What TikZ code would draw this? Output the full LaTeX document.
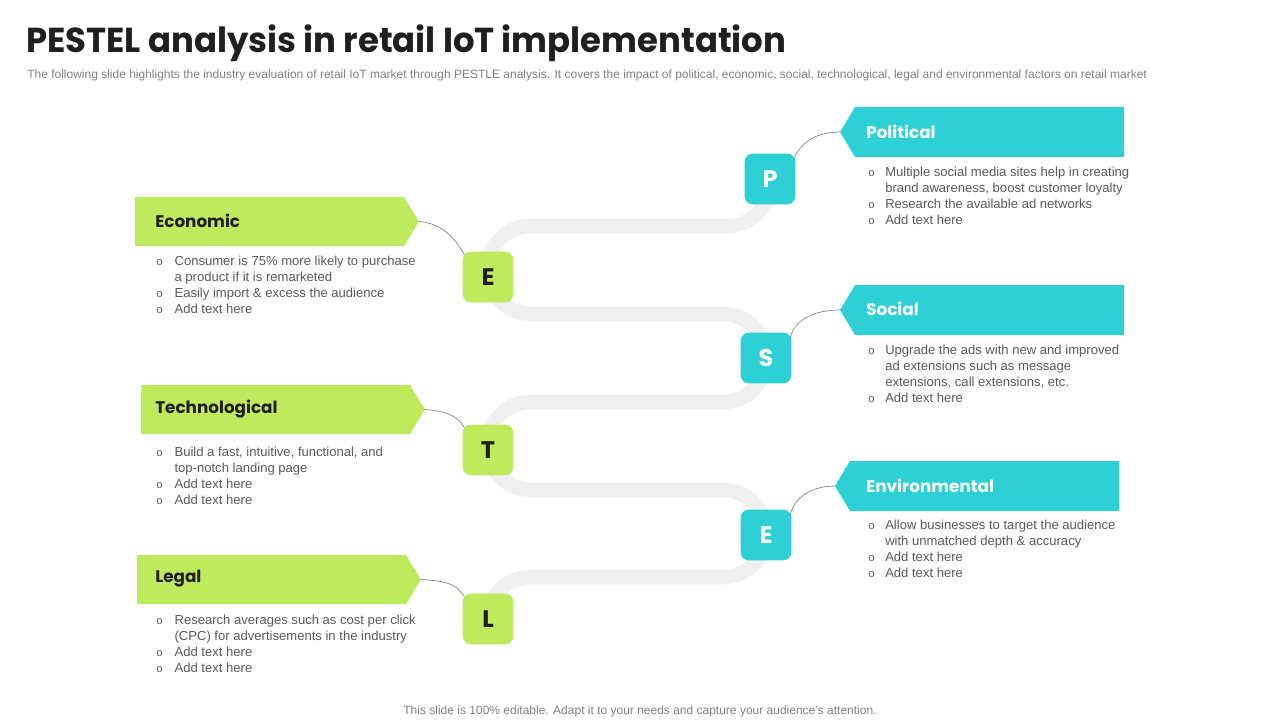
\documentclass[tikz,border=0pt]{standalone}
\usepackage{fontspec}
\usepackage{graphicx}
\setmainfont{Liberation Sans}
\newfontfamily\headfont{Poppins}
\usetikzlibrary{positioning, backgrounds}
\definecolor{pslime}{HTML}{BFEA5E}
\definecolor{psteal}{HTML}{2DD0D4}
\definecolor{pstrack}{HTML}{EFEFEF}
\definecolor{pstext}{HTML}{595959}
\definecolor{psdark}{HTML}{1F1F1F}
\definecolor{psgray}{HTML}{808080}
\newcommand{\bul}{{\fontsize{8.5}{8}\selectfont o}}

\begin{document}
\begin{tikzpicture}[
    x=0.75pt, y=-0.75pt,
    letterbox/.style={fill=#1, rounded corners=6pt, minimum size=38pt, inner sep=0pt,
      font=\headfont\bfseries\fontsize{18}{18}\selectfont},
    heading/.style={anchor=west, inner sep=0pt, font=\headfont\bfseries\fontsize{12.6}{14}\selectfont},
    bullets/.style={anchor=north west, inner sep=0pt, text=pstext,
      font=\fontsize{9.8}{12}\selectfont},
    link/.style={draw=psgray, line width=0.5pt},
    track/.style={draw=pstrack, line width=11pt, rounded corners=32pt},
  ]
  \useasboundingbox (0,0) rectangle (1280,720);

  % ----- title and note -----
  \node[anchor=base west, inner sep=0pt, text=psdark, font=\headfont\bfseries\fontsize{26}{26}\selectfont]
    (title) at (26,53) {\scalebox{0.978}[1]{PESTEL analysis in retail IoT implementation}};
  \node[anchor=base west, inner sep=0pt, text=psgray, font=\fontsize{9}{10}\selectfont] (subtitle) at (27,79)
    {The following slide highlights the industry evaluation of retail IoT  market through PESTLE analysis. It covers the impact of political, economic, social, technological, legal and environmental factors on retail market};

  % ----- letter boxes -----
  \node[letterbox=psteal, text=white] (P) at (770,179) {P};
  \node[letterbox=pslime, text=psdark] (E1) at (488,277) {E};
  \node[letterbox=psteal, text=white] (S) at (766,358) {S};
  \node[letterbox=pslime, text=psdark] (T) at (488,450) {T};
  \node[letterbox=psteal, text=white] (E2) at (766,535) {E};
  \node[letterbox=pslime, text=psdark] (L) at (488,619) {L};

  % ----- banners (green left, teal right) -----
  \foreach \x/\y/\nm in {135/197/eco, 141/385/tech, 137/555/legal}{
    \fill[pslime] (\x,\y) -- ++(269,0) -- ++(15,24.5) coordinate (\nm Tip)
      -- ++(-15,24.5) -- ++(-269,0) -- cycle;
  }
  \foreach \x/\y/\nm in {1124/107/pol, 1124/285/soc, 1119/461/env}{
    \fill[psteal] (\x,\y) -- ++(-269,0) -- ++(-15,25) coordinate (\nm Tip)
      -- ++(15,25) -- ++(269,0) -- cycle;
  }
  \node[heading, text=psdark] (ecoHead) at (155,220.5) {Economic};
  \node[heading, text=psdark] (techHead) at (155,409.5) {Technological};
  \node[heading, text=psdark] (legalHead) at (155,578.5) {Legal};
  \node[heading, text=white] (polHead) at (866,131.5) {Political};
  \node[heading, text=white] (socHead) at (866,308.5) {Social};
  \node[heading, text=white] (envHead) at (866,485.5) {Environmental};

  % ----- snake track and links, behind the boxes -----
  \coordinate (r1) at (0,226);
  \coordinate (r2) at (0,314);
  \coordinate (r3) at (0,402);
  \coordinate (r4) at (0,490);
  \coordinate (r5) at (0,577);
  \begin{scope}[on background layer]
    \draw[track] (P) -- (P |- r1) -- (E1 |- r1) -- (E1 |- r2) -- (S |- r2) -- (S |- r3)
      -- (T |- r3) -- (T |- r4) -- (E2 |- r4) -- (E2 |- r5) -- (L |- r5) -- (L);
    \draw[link] (ecoTip) to[out=-5, in=120] ([shift={(1.5pt,-2.5pt)}]E1.north west);
    \draw[link] (techTip) to[out=-5, in=120] ([shift={(1.5pt,-2.5pt)}]T.north west);
    \draw[link] (legalTip) to[out=-5, in=120] ([shift={(1.5pt,-2.5pt)}]L.north west);
    \draw[link] ([shift={(-1.5pt,-4pt)}]P.north east) to[out=65, in=180] (polTip);
    \draw[link] ([shift={(-1.5pt,-6pt)}]S.north east) to[out=80, in=180] (socTip);
    \draw[link] ([shift={(-1.5pt,-6pt)}]E2.north east) to[out=80, in=180] (envTip);
  \end{scope}

  % ----- bullet texts -----
  \node[bullets] (ecoList) at (156,254) {\begin{tabular}{@{}l@{\hspace{9pt}}l@{}}
    \bul & Consumer is 75\% more likely to purchase\\
         & a product if it is remarketed\\
    \bul & Easily import \& excess the audience\\
    \bul & Add text here
  \end{tabular}};
  \node[bullets] (techList) at (156,445) {\begin{tabular}{@{}l@{\hspace{9pt}}l@{}}
    \bul & Build a fast, intuitive, functional, and\\
         & top-notch landing page\\
    \bul & Add text here\\
    \bul & Add text here
  \end{tabular}};
  \node[bullets] (legalList) at (156,613) {\begin{tabular}{@{}l@{\hspace{9pt}}l@{}}
    \bul & Research averages  such as cost per click\\
         & (CPC) for advertisements  in the industry\\
    \bul & Add text here\\
    \bul & Add text here
  \end{tabular}};
  \node[bullets] (polList) at (868,165) {\begin{tabular}{@{}l@{\hspace{8pt}}l@{}}
    \bul & Multiple social media sites help in creating\\
         & brand awareness,  boost customer loyalty\\
    \bul & Research the available  ad networks\\
    \bul & Add text here
  \end{tabular}};
  \node[bullets] (socList) at (868,343) {\begin{tabular}{@{}l@{\hspace{8pt}}l@{}}
    \bul & Upgrade the ads with new and improved\\
         & ad extensions such as message\\
         & extensions, call extensions, etc.\\
    \bul & Add text here
  \end{tabular}};
  \node[bullets] (envList) at (868,518) {\begin{tabular}{@{}l@{\hspace{8pt}}l@{}}
    \bul & Allow businesses to target the audience\\
         & with unmatched depth \& accuracy\\
    \bul & Add text here\\
    \bul & Add text here
  \end{tabular}};

  % ----- footer -----
  \node[anchor=base, inner sep=0pt, text=psgray, font=\fontsize{9}{10}\selectfont] (footer) at (640,714)
    {This slide is 100\% editable. Adapt it to your needs and capture your audience's attention.};
\end{tikzpicture}
\end{document}
